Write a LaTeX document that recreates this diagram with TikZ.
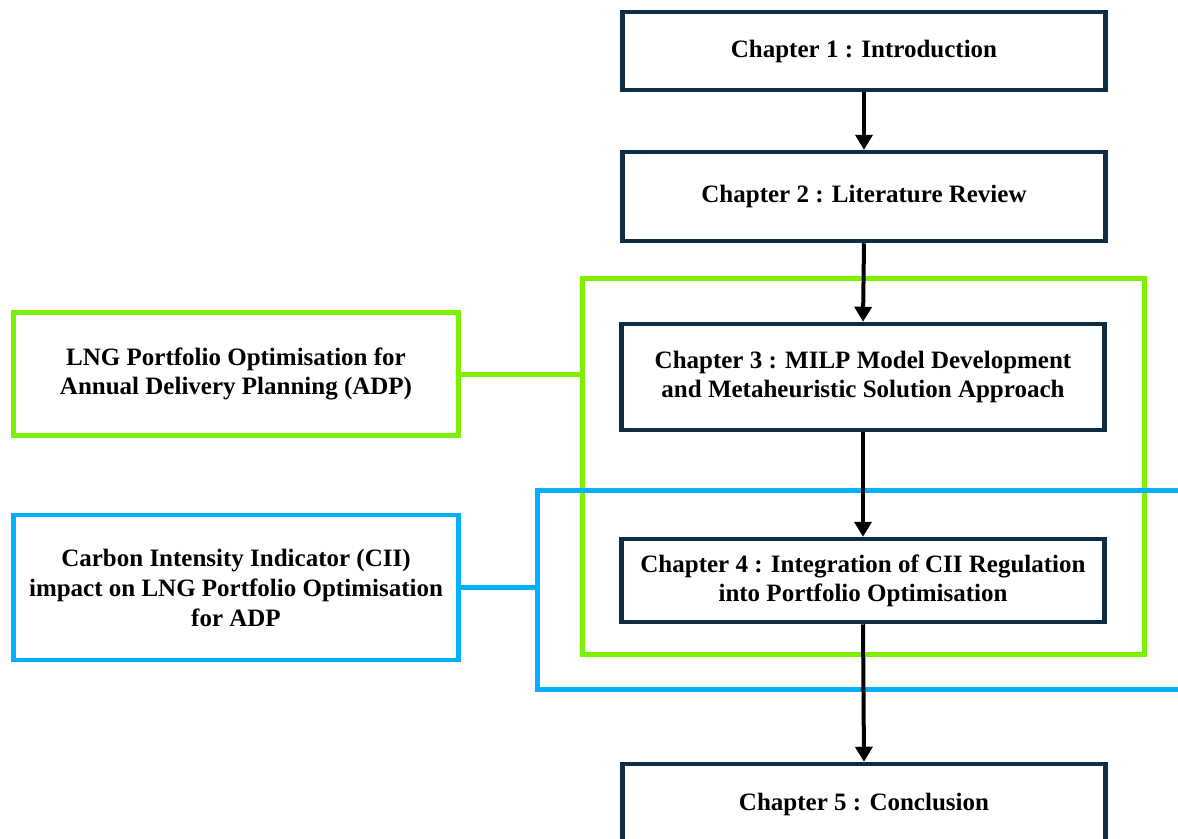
\documentclass[tikz,border=0pt]{standalone}
\usepackage{fontspec}
\setmainfont{Liberation Serif}
\usetikzlibrary{arrows.meta,positioning,calc}
\definecolor{navy}{HTML}{0E2C45}
\definecolor{lgreen}{HTML}{7DF000}
\definecolor{lblue}{HTML}{00B0FF}
\tikzset{
  chap/.style={draw=navy, line width=4.5pt, fill=white, minimum width=483pt,
    align=center, inner sep=0pt, font=\bfseries\fontsize{25}{29}\selectfont},
  greenbox/.style={draw=lgreen, line width=5pt, fill=white, minimum width=445pt,
    align=center, inner sep=0pt, font=\bfseries\fontsize{25}{29.5}\selectfont},
  bluebox/.style={draw=lblue, line width=4.5pt, fill=white, minimum width=445pt,
    align=center, inner sep=0pt, font=\bfseries\fontsize{25}{30}\selectfont},
  greengroup/.style={draw=lgreen, line width=5pt, inner sep=0pt},
  bluegroup/.style={draw=lblue, line width=4.5pt, inner sep=0pt},
  arr/.style={draw=black, line width=4pt, -{Triangle[width=17pt,length=15pt]}},
}
\begin{document}
\begin{tikzpicture}[x=1pt,y=-1pt]
\useasboundingbox[fill=white] (0,0) rectangle (1178,838);
% group frames
\node[greengroup, minimum width=562pt, minimum height=376pt] (gg) at (863.5,466.5) {};
\node[bluegroup, minimum width=680pt, minimum height=199pt, anchor=north west] (bg) at (535,488) {};
% chapter boxes
\node[chap, minimum height=78pt] (c1) at (864,51) {Chapter 1 : Introduction};
\node[chap, minimum height=89pt] (c2) at (864,196.5) {Chapter 2 : Literature Review};
\node[chap, minimum height=106pt] (c3) at (863,377) {Chapter 3 : MILP Model Development\\and Metaheuristic Solution Approach};
\node[chap, minimum height=83pt] (c4) at (863,580.5) {Chapter 4 : Integration of CII Regulation\\into Portfolio Optimisation};
\node[chap, minimum height=80pt] (c5) at (864,804) {Chapter 5 : Conclusion};
% side boxes
\node[greenbox, minimum height=123pt] (lg) at (236,374) {LNG Portfolio Optimisation for\\Annual Delivery Planning (ADP)};
\node[bluebox, minimum height=145pt] (lb) at (236,587.5) {Carbon Intensity Indicator (CII)\\impact on LNG Portfolio Optimisation\\for ADP};
% connectors side boxes -> frames
\draw[draw=lgreen, line width=5pt] (lg.east) -- (lg.east -| gg.west);
\draw[draw=lblue, line width=4.5pt] (lb.east) -- (lb.east -| bg.west);
% arrows
\draw[arr] (c1.south) -- (c2.north);
\draw[arr] (c2.south) -- (c3.north);
\draw[arr] (c3.south) -- (c4.north);
\draw[arr] (c4.south) -- (c5.north);
\end{tikzpicture}
\end{document}
